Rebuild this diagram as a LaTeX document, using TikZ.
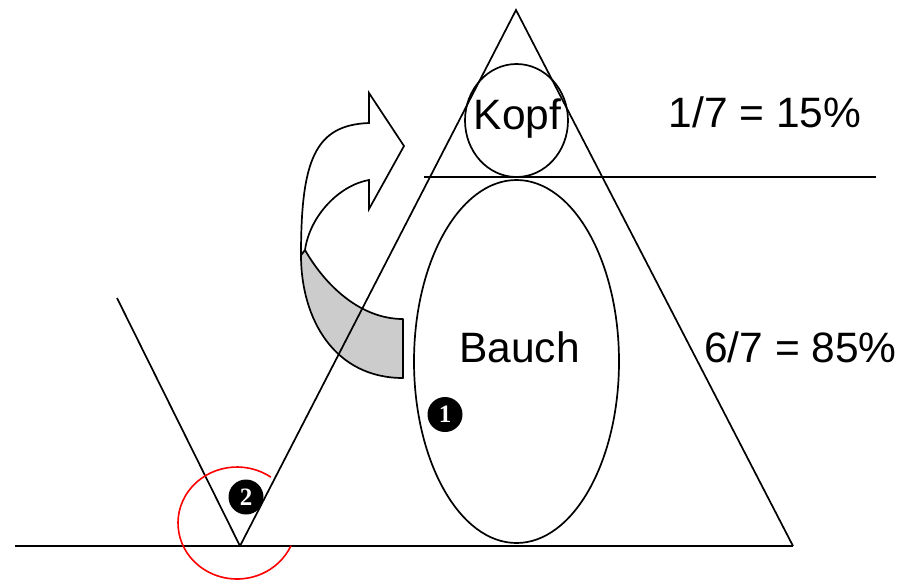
\documentclass[tikz,border=0pt]{standalone}
\usepackage{fontspec}
\setmainfont{Liberation Sans}
\newfontfamily\numfont{Liberation Serif}
\usetikzlibrary{shapes.geometric}

\tikzset{
  stroke/.style={line width=1.7pt, draw=black},
  body/.style={ellipse, stroke, inner sep=0pt},
  lbl/.style={font=\fontsize{42.5}{48}\selectfont, inner sep=0pt},
  marker/.style={circle, fill=black, text=white, minimum size=35pt, inner sep=0pt,
    font=\numfont\bfseries\fontsize{25}{25}\selectfont},
}

\begin{document}
\begin{tikzpicture}[x=1pt, y=-1pt]
\useasboundingbox (0,0) rectangle (905,579);

% corner points
\coordinate (apex) at (516,10);
\coordinate (vtx) at (240,546);
\coordinate (rc) at (793,546);
\coordinate (bl) at (15,546);
\coordinate (vl) at (117,298);
\coordinate (hl) at (424,177);
\coordinate (hr) at (876,177);

% curved arrow: shaded underside
\filldraw[stroke, fill=black!20, line join=round]
  (305,250) .. controls (325,285) and (360,319) .. (403,319)
  -- (403,378) .. controls (335,378) and (301,320) .. (301,255) -- cycle;
% curved arrow: front face with head
\filldraw[stroke, fill=white, line join=miter]
  (301,255) .. controls (301,160) and (315,125) .. (369,123)
  -- (369,93) -- (404,146) -- (369,209) -- (369,180)
  .. controls (340,185) and (310,215) .. (305,250) -- cycle;

% triangle, ground line and the V
\draw[stroke] (vtx) -- (apex) -- (rc);
\draw[stroke] (bl) -- (rc);
\draw[stroke] (vl) -- (vtx);
\draw[stroke] (hl) -- (hr);

% head and belly
\node[body, minimum width=103pt, minimum height=113pt] (kopf) at (516.5,120.5) {};
\node[body, minimum width=205pt, minimum height=363pt] (bauch) at (516.5,361.5) {};

\node[lbl, anchor=base] (tk) at (517.5,129) {Kopf};
\node[lbl, anchor=base] (tb) at (519.5,362) {Bauch};
\node[lbl, anchor=base west] (f1) at (668.5,127) {1/7 = 15\%};
\node[lbl, anchor=base west] (f2) at (704,362) {6/7 = 85\%};

% numbered markers
\node[marker] (m1) at (445,414.5) {1};
\node[marker] (m2) at (246,497) {2};

% red ring around the V vertex
\draw[red, line width=1.6pt] (237,523) ++(-55:59 and 56)
  arc[start angle=-55, end angle=-336, x radius=59, y radius=56];
\end{tikzpicture}
\end{document}
